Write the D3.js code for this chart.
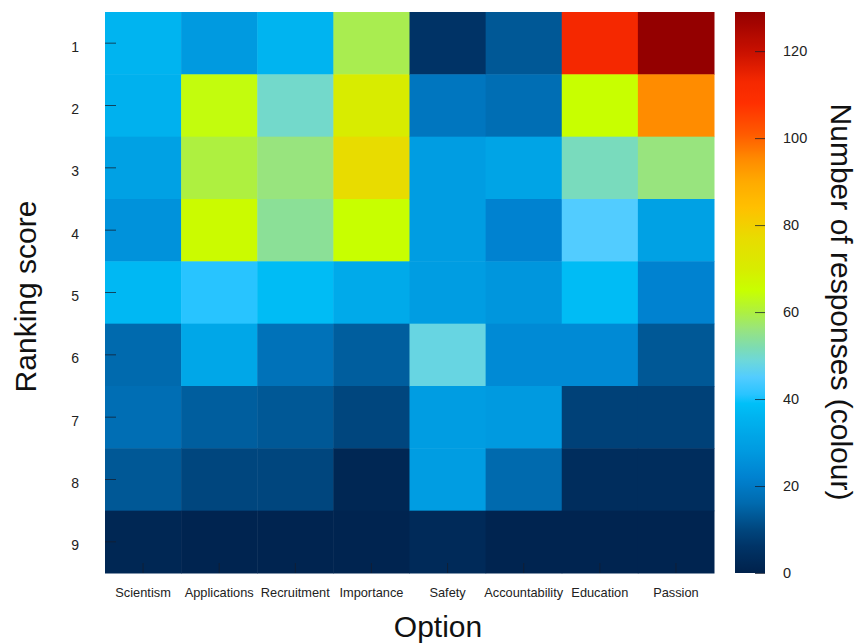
<!DOCTYPE html>
<html>
<head>
<meta charset="utf-8">
<script src="https://cdn.jsdelivr.net/npm/d3@7"></script>
<style>
  html, body { margin: 0; padding: 0; background: #fff; }
  svg { display: block; font-family: "Liberation Sans", Arial, Helvetica, sans-serif; }
</style>
</head>
<body>
<svg id="chart" width="861" height="644"></svg>
<script>
// Options ranked by respondents and the ranking scores (1 = top)
const options = ["Scientism", "Applications", "Recruitment", "Importance",
                 "Safety", "Accountability", "Education", "Passion"];
const ranks = [1, 2, 3, 4, 5, 6, 7, 8, 9];

// Number of responses per ranking score (1..9) for each option
const scientism      = [36, 35, 30, 26, 37, 16, 17, 13, 2];
const applications   = [28, 64, 60, 66, 41, 32, 14, 10, 1];
const recruitment    = [36, 50, 56, 54, 38, 18, 13, 10, 1];
const importance     = [59, 70, 77, 65, 33, 14, 10, 2, 1];
const safety         = [6, 19, 29, 29, 29, 48, 29, 29, 3];
const accountability = [13, 17, 31, 22, 27, 24, 28, 16, 1];
const education      = [113, 65, 51, 45, 38, 24, 9, 4, 1];
const passion        = [129, 95, 56, 30, 22, 13, 9, 4, 1];

const colourTicks = [0, 20, 40, 60, 80, 100, 120];
const colourMax = 129;

// Colour ramp: navy -> blue -> cyan -> green -> yellow -> orange -> dark red
const rampStops = [0, 6, 10, 16, 22, 28, 36, 39, 41, 45, 49, 52, 56, 60, 65,
                   70, 77, 84, 90, 95, 101, 108, 113, 120, 129];
const rampColours = ["#00214b", "#003366", "#00467e", "#006aae", "#0082d0",
                     "#009ae0", "#00b4f0", "#00c0f8", "#28c4ff", "#52ccff",
                     "#6ed8d8", "#7edcb0", "#98e47e", "#aef040", "#c8ff00",
                     "#d8ec00", "#e8dc00", "#ffc000", "#ffaa00", "#ff8c00",
                     "#ff5a00", "#ff3000", "#f52800", "#c81000", "#940000"];

const series = [scientism, applications, recruitment, importance,
                safety, accountability, education, passion];

const cells = [];
options.forEach((opt, i) => {
  ranks.forEach((r, j) => cells.push({ option: opt, rank: r, value: series[i][j] }));
});

const svg = d3.select("#chart");
const plot = { left: 105, top: 12, width: 609, height: 561 };
const bar = { left: 735, width: 30 };

const x = d3.scaleBand().domain(options).range([plot.left, plot.left + plot.width]);
const y = d3.scaleBand().domain(ranks).range([plot.top, plot.top + plot.height]);
const colour = d3.scaleLinear().domain(rampStops).range(rampColours)
  .interpolate(d3.interpolateRgb).clamp(true);

// Heatmap cells
svg.append("g").selectAll("rect").data(cells).join("rect")
  .attr("x", d => x(d.option))
  .attr("y", d => y(d.rank))
  .attr("width", x.bandwidth() + 0.5)
  .attr("height", y.bandwidth() + 0.5)
  .attr("fill", d => colour(d.value));

// Inward tick marks
const tickStroke = "rgba(20,30,45,0.75)";
svg.append("g").selectAll("line").data(ranks).join("line")
  .attr("x1", plot.left).attr("x2", plot.left + 11)
  .attr("y1", d => y(d) + y.bandwidth() / 2)
  .attr("y2", d => y(d) + y.bandwidth() / 2)
  .attr("stroke", tickStroke).attr("stroke-width", 1);
svg.append("g").selectAll("line").data(options).join("line")
  .attr("x1", d => x(d) + x.bandwidth() / 2)
  .attr("x2", d => x(d) + x.bandwidth() / 2)
  .attr("y1", plot.top + plot.height).attr("y2", plot.top + plot.height - 10)
  .attr("stroke", tickStroke).attr("stroke-width", 1);

// Tick labels
svg.append("g").selectAll("text").data(ranks).join("text")
  .attr("x", 79)
  .attr("y", d => y(d) + y.bandwidth() / 2 + 8.5)
  .attr("text-anchor", "end")
  .attr("font-size", 14).attr("fill", "#222")
  .text(d => d);
svg.append("g").selectAll("text").data(options).join("text")
  .attr("x", d => x(d) + x.bandwidth() / 2)
  .attr("y", 597)
  .attr("text-anchor", "middle")
  .attr("font-size", 12.8).attr("fill", "#222")
  .text(d => d);

// Axis titles
svg.append("text")
  .attr("transform", "translate(36,296.5) rotate(-90)")
  .attr("text-anchor", "middle")
  .attr("font-size", 30).attr("fill", "#111")
  .text("Ranking score");
svg.append("text")
  .attr("x", 438).attr("y", 637)
  .attr("text-anchor", "middle")
  .attr("font-size", 30).attr("fill", "#111")
  .text("Option");

// Colour bar
const cScale = d3.scaleLinear().domain([0, colourMax])
  .range([plot.top + plot.height, plot.top]);
const defs = svg.append("defs");
const grad = defs.append("linearGradient").attr("id", "ramp")
  .attr("x1", 0).attr("y1", 1).attr("x2", 0).attr("y2", 0);
grad.selectAll("stop").data(d3.range(0, colourMax + 0.5, 0.5)).join("stop")
  .attr("offset", d => d / colourMax)
  .attr("stop-color", d => colour(d));
svg.append("rect")
  .attr("x", bar.left).attr("y", plot.top)
  .attr("width", bar.width).attr("height", plot.height)
  .attr("fill", "url(#ramp)");

const cAxis = svg.append("g")
  .attr("transform", `translate(${bar.left + bar.width},0)`)
  .call(d3.axisLeft(cScale).tickValues(colourTicks).tickSize(10).tickFormat(""));
cAxis.select(".domain").remove();
cAxis.selectAll(".tick line").attr("stroke", tickStroke);

svg.append("g").selectAll("text").data(colourTicks).join("text")
  .attr("x", 783)
  .attr("y", d => cScale(d) + 5)
  .attr("font-size", 14.5).attr("fill", "#222")
  .text(d => d);

svg.append("text")
  .attr("transform", "translate(831,302) rotate(90)")
  .attr("text-anchor", "middle")
  .attr("font-size", 30).attr("fill", "#111")
  .text("Number of responses (colour)");
</script>
</body>
</html>
